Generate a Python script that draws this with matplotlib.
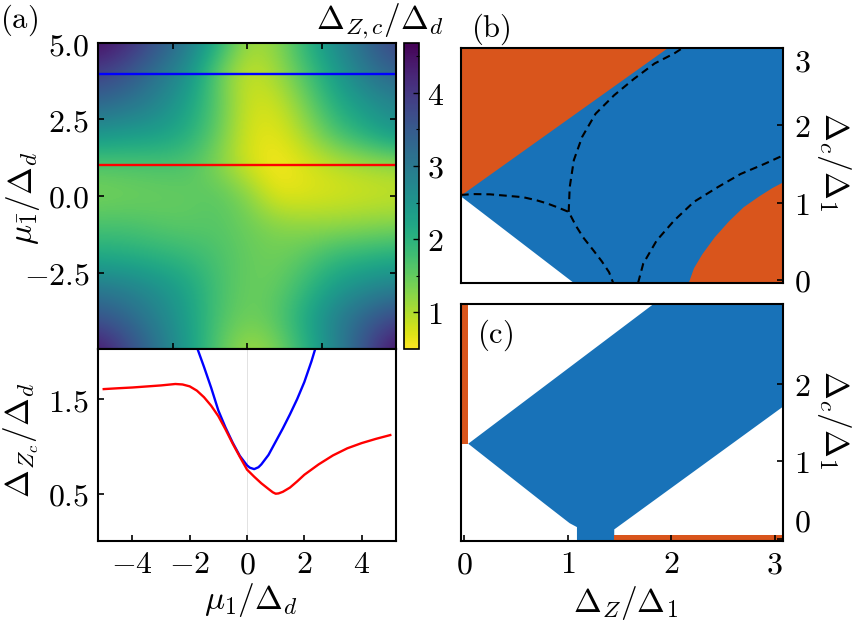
import numpy as np
import matplotlib
matplotlib.use("Agg")
import matplotlib.pyplot as plt
from matplotlib.colors import Normalize

plt.rcParams['mathtext.fontset'] = 'cm'
plt.rcParams['font.family'] = ['DejaVu Serif']

# ---------------- data ----------------
# (a) heat map: Delta_{Z,c}/Delta_d on grid mu1 (columns) x mu1bar (rows, top=5)
mu1_grid = [-5, -4, -3, -2, -1, 0, 1, 2, 3, 4, 5]
mubar_grid = [5, 4, 3, 2, 1, 0, -1, -2, -3, -4, -5]
dzc_row_p5 = [4.6, 4.2, 3.6, 3.0, 2.1, 1.1, 1.2, 2.0, 2.7, 3.3, 3.9]
dzc_row_p4 = [3.9, 3.6, 3.1, 2.6, 1.5, 0.8, 1.1, 1.7, 2.4, 3.0, 3.4]
dzc_row_p3 = [3.3, 3.1, 2.8, 2.3, 1.6, 0.8, 0.8, 1.4, 2.1, 2.5, 2.8]
dzc_row_p2 = [2.5, 2.4, 2.35, 2.1, 1.5, 0.75, 0.65, 1.1, 1.7, 2.1, 2.5]
dzc_row_p1 = [1.6, 1.63, 1.66, 1.65, 1.28, 0.75, 0.5, 0.72, 0.9, 1.02, 1.11]
dzc_row_0 = [1.35, 1.4, 1.45, 1.5, 1.6, 1.3, 0.65, 0.7, 0.75, 0.8, 0.85]
dzc_row_m1 = [1.7, 1.7, 1.6, 1.55, 1.6, 1.45, 1.3, 1.2, 1.2, 1.25, 1.3]
dzc_row_m2 = [2.15, 2.1, 2.0, 1.9, 1.7, 1.5, 1.4, 1.6, 1.9, 2.0, 2.1]
dzc_row_m3 = [3.0, 2.85, 2.6, 2.25, 1.75, 1.45, 1.5, 1.9, 2.4, 2.7, 2.9]
dzc_row_m4 = [3.6, 3.3, 2.85, 2.35, 1.7, 1.4, 1.6, 2.2, 2.9, 3.4, 3.8]
dzc_row_m5 = [4.5, 3.8, 3.1, 2.4, 1.6, 1.05, 1.3, 2.0, 2.8, 3.7, 4.6]
cbar_min, cbar_max = 0.5, 4.68
cut_blue = 4.0
cut_red = 1.0

# (a) lower: cuts
mu1_red = [-5, -4.5, -4, -3.5, -3, -2.5, -2.25, -2, -1.75, -1.5, -1.25, -1, -0.75, -0.5, -0.25,
           0, 0.25, 0.5, 0.75, 0.9, 1, 1.1, 1.25, 1.5, 1.75, 2, 2.5, 3, 3.5, 4, 4.5, 5]
dzc_red = [1.606, 1.615, 1.623, 1.634, 1.645, 1.66, 1.655, 1.635, 1.59, 1.52, 1.43, 1.32, 1.18,
           1.03, 0.89, 0.755, 0.68, 0.61, 0.55, 0.515, 0.50, 0.503, 0.52, 0.565, 0.63, 0.70,
           0.81, 0.905, 0.98, 1.035, 1.08, 1.12]
mu1_blue = [-1.75, -1.5, -1.25, -1.0, -0.75, -0.5, -0.25, 0.0, 0.1, 0.25, 0.4, 0.5, 0.75, 1.0,
            1.25, 1.5, 1.75, 2.0, 2.25, 2.4]
dzc_blue = [2.05, 1.84, 1.62, 1.38, 1.2, 1.04, 0.9, 0.8, 0.775, 0.76, 0.78, 0.81, 0.91, 1.05,
            1.19, 1.34, 1.5, 1.68, 1.9, 2.05]

# (b) phase diagram regions (Delta_Z/Delta_1, Delta_c/Delta_1)
dz_domain = [-0.03, 3.08]
dc_domain_b = [-0.04, 3.0]
orangeTL_b_x = [-0.03, 1.97, -0.03]
orangeTL_b_y = [1.09, 3.0, 3.0]
white_b_x = [-0.03, -0.03, 1.06]
white_b_y = [-0.04, 1.08, -0.04]
orangeBR_b_x = [2.17, 2.22, 2.3, 2.42, 2.56, 2.7, 2.85, 2.98, 3.08, 3.08]
orangeBR_b_y = [-0.04, 0.15, 0.33, 0.55, 0.76, 0.94, 1.08, 1.19, 1.26, -0.04]
dash1_x = [-0.03, 0.1, 0.25, 0.4, 0.57, 0.7, 0.8, 0.9, 1.01, 1.08, 1.15, 1.25, 1.33, 1.40, 1.44]
dash1_y = [1.10, 1.11, 1.107, 1.09, 1.07, 1.03, 0.99, 0.94, 0.88, 0.70, 0.55, 0.38, 0.24, 0.10, -0.04]
dash2_x = [1.01, 1.02, 1.06, 1.14, 1.27, 1.45, 1.64, 1.84, 2.03, 2.11]
dash2_y = [0.88, 1.20, 1.55, 1.85, 2.15, 2.39, 2.60, 2.80, 2.93, 3.0]
dash3_x = [1.68, 1.73, 1.86, 2.03, 2.22, 2.45, 2.67, 2.90, 3.08]
dash3_y = [-0.04, 0.21, 0.51, 0.77, 1.01, 1.20, 1.37, 1.50, 1.61]

# (c) phase diagram regions
dc_domain_c = [-0.03, 3.04]
blue_c_x = [0.04, 1.83, 3.08, 3.08, 1.45, 1.45, 1.09, 1.09, 1.02, 0.77, 0.04]
blue_c_y = [1.23, 3.04, 3.04, 1.71, 0.12, -0.03, -0.03, 0.15, 0.20, 0.46, 1.23]
orangeL_c_x = [-0.03, 0.04, 0.04, -0.03]
orangeL_c_y = [1.23, 1.23, 3.04, 3.04]
orangeB_c_x = [1.45, 3.08, 3.08, 1.45]
orangeB_c_y = [-0.03, -0.03, 0.05, 0.05]

BLUE = '#1872b8'
ORANGE = '#d9551c'
FS_T = 23
FS_L = 24
FS_P = 22

W, H = 852, 621


def rect(x0, y0, x1, y1):
    return [x0 / W, 1 - y1 / H, (x1 - x0) / W, (y1 - y0) / H]


fig = plt.figure(figsize=(W / 100, H / 100), dpi=100)

# ---------------- (a) heat map ----------------
Z = np.array([dzc_row_p5, dzc_row_p4, dzc_row_p3, dzc_row_p2, dzc_row_p1, dzc_row_0,
              dzc_row_m1, dzc_row_m2, dzc_row_m3, dzc_row_m4, dzc_row_m5])
ax_h = fig.add_axes(rect(98, 43, 396, 349))
dx = 0.5 * (mu1_grid[1] - mu1_grid[0])
im = ax_h.imshow(Z, extent=[mu1_grid[0] - dx, mu1_grid[-1] + dx, mubar_grid[-1] - dx, mubar_grid[0] + dx],
                 origin='upper', cmap='viridis_r', norm=Normalize(cbar_min, cbar_max),
                 interpolation='bicubic', aspect='auto')
ax_h.axhline(cut_blue, color='blue', lw=1.7)
ax_h.axhline(cut_red, color='red', lw=1.7)
ax_h.set_xlim(-5, 5)
ax_h.set_ylim(-5, 5)
ax_h.set_xticks([-2.5, 0, 2.5])
ax_h.set_xticklabels([])
ax_h.set_yticks([-2.5, 0, 2.5, 5.0])
ax_h.set_yticklabels([r'$-2.5$', r'$0.0$', r'$2.5$', r'$5.0$'], fontsize=FS_T)
ax_h.tick_params(direction='in', top=True, right=True, length=4, width=1.2, pad=6)
for s in ax_h.spines.values():
    s.set_linewidth(1.5)

cax = fig.add_axes(rect(403.5, 43, 419, 349))
cb = fig.colorbar(im, cax=cax)
cb.set_ticks([1, 2, 3, 4])
cb.set_ticklabels([r'$1$', r'$2$', r'$3$', r'$4$'])
cax.set_yticks([1.5, 2.5, 3.5, 4.5], minor=True)
cax.tick_params(which='major', direction='in', length=4, width=1.0, labelsize=FS_T, pad=6)
cax.tick_params(which='minor', direction='in', length=2.5, width=0.8)
cb.outline.set_linewidth(1.2)

fig.text(380 / W, 1 - 21 / H, r'$\Delta_{Z,c}/\Delta_d$', ha='center', va='center', fontsize=FS_L)
fig.text(19 / W, 1 - 20 / H, r'$\mathrm{(a)}$', ha='center', va='center', fontsize=FS_P)
fig.text(23 / W, 1 - 198 / H, r'$\mu_{\bar{1}}/\Delta_d$', ha='center', va='center',
         rotation=90, fontsize=FS_L)

# ---------------- (a) lower cuts ----------------
ax_l = fig.add_axes(rect(98, 349, 396, 541))
ax_l.axvline(0, color='#dddddd', lw=0.6, zorder=0)
ax_l.plot(mu1_blue, dzc_blue, color='blue', lw=1.7)
ax_l.plot(mu1_red, dzc_red, color='red', lw=1.7)
ax_l.set_xlim(-5.2, 5.2)
ax_l.set_ylim(0, 2.03)
ax_l.set_xticks([-4, -2, 0, 2, 4])
ax_l.set_xticklabels([r'$-4$', r'$-2$', r'$0$', r'$2$', r'$4$'], fontsize=FS_T)
ax_l.set_yticks([0.5, 1.5])
ax_l.set_yticklabels([r'$0.5$', r'$1.5$'], fontsize=FS_T)
ax_l.tick_params(direction='in', length=4, width=1.2, pad=6)
for s in ax_l.spines.values():
    s.set_linewidth(1.5)
fig.text(251 / W, 1 - 600 / H, r'$\mu_1/\Delta_d$', ha='center', va='center', fontsize=FS_L)
fig.text(21 / W, 1 - 440 / H, r'$\Delta_{Z_c}/\Delta_d$', ha='center', va='center',
         rotation=90, fontsize=FS_L)

# ---------------- (b) ----------------
ax_b = fig.add_axes(rect(461, 48, 783, 283))
ax_b.fill_between(dz_domain, dc_domain_b[0], dc_domain_b[1], color=BLUE, lw=0)
ax_b.fill(orangeTL_b_x, orangeTL_b_y, color=ORANGE, lw=0)
ax_b.fill(white_b_x, white_b_y, color='white', lw=0)
ax_b.fill(orangeBR_b_x, orangeBR_b_y, color=ORANGE, lw=0)
for xs, ys in ((dash1_x, dash1_y), (dash2_x, dash2_y), (dash3_x, dash3_y)):
    ax_b.plot(xs, ys, color='black', lw=1.5, dashes=(3.7, 2.4))
ax_b.set_xlim(dz_domain)
ax_b.set_ylim(dc_domain_b)
ax_b.set_xticks([])
ax_b.yaxis.tick_right()
ax_b.set_yticks([0, 1, 2, 3])
ax_b.set_yticklabels([r'$0$', r'$1$', r'$2$', r'$3$'], fontsize=FS_T)
ax_b.get_yticklabels()[-1].set_va('top')
ax_b.tick_params(direction='in', length=4, width=1.2, pad=8)
for s in ax_b.spines.values():
    s.set_linewidth(1.5)
fig.text(491 / W, 1 - 29 / H, r'$\mathrm{(b)}$', ha='center', va='center', fontsize=FS_P)
fig.text(834 / W, 1 - 162 / H, r'$\Delta_c/\Delta_1$', ha='center', va='center',
         rotation=-90, fontsize=FS_L)

# ---------------- (c) ----------------
ax_c = fig.add_axes(rect(461, 304, 783, 541))
ax_c.fill(blue_c_x, blue_c_y, color=BLUE, lw=0)
ax_c.fill(orangeL_c_x, orangeL_c_y, color=ORANGE, lw=0)
ax_c.fill(orangeB_c_x, orangeB_c_y, color=ORANGE, lw=0)
ax_c.set_xlim(dz_domain)
ax_c.set_ylim(dc_domain_c)
ax_c.set_xticks([0, 1, 2, 3])
ax_c.set_xticklabels([r'$0$', r'$1$', r'$2$', r'$3$'], fontsize=FS_T)
ax_c.yaxis.tick_right()
ax_c.set_yticks([0, 1, 2])
ax_c.set_yticklabels([r'$0$', r'$1$', r'$2$'], fontsize=FS_T)
ax_c.get_yticklabels()[0].set_va('bottom')
ax_c.tick_params(direction='in', length=4, width=1.2, pad=8)
ax_c.tick_params(axis='x', pad=6)
for s in ax_c.spines.values():
    s.set_linewidth(1.5)
fig.text(495 / W, 1 - 335 / H, r'$\mathrm{(c)}$', ha='center', va='center', fontsize=FS_P)
fig.text(834 / W, 1 - 420 / H, r'$\Delta_c/\Delta_1$', ha='center', va='center',
         rotation=-90, fontsize=FS_L)
fig.text(626 / W, 1 - 603 / H, r'$\Delta_Z/\Delta_1$', ha='center', va='center', fontsize=FS_L)

fig.savefig('out.png', dpi=100)
